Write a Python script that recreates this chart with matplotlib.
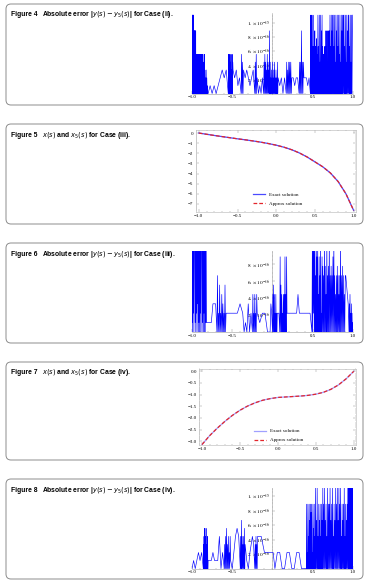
import numpy as np
import matplotlib.pyplot as plt
from matplotlib.patches import FancyBboxPatch
from matplotlib.ticker import MultipleLocator

plt.rcParams['mathtext.fontset'] = 'stix'

W, H = 367, 585
EPS = 1.11e-16   # error levels are written as multiples of this (hex digit per sample)

# x(s) curves, s from -1.0 to 1.0 step 0.1
s_curve = [-1.0, -0.9, -0.8, -0.7, -0.6, -0.5, -0.4, -0.3, -0.2, -0.1, 0.0,
           0.1, 0.2, 0.3, 0.4, 0.5, 0.6, 0.7, 0.8, 0.9, 1.0]
x_case3 = [0.0, -0.12, -0.24, -0.35, -0.46, -0.57, -0.67, -0.78, -0.90, -1.04, -1.20,
           -1.40, -1.65, -1.97, -2.37, -2.85, -3.33, -3.95, -4.80, -6.00, -7.65]
x_case4 = [-3.14, -2.76, -2.44, -2.15, -1.89, -1.67, -1.49, -1.35, -1.24, -1.17, -1.12,
           -1.10, -1.08, -1.06, -1.03, -0.98, -0.90, -0.77, -0.58, -0.32, 0.0]

# absolute error traces: (s_start, s_end, levels)
err_case2 = [
    (-1.000, -0.975, "a0a0a9a0a0"),
    (-0.975, -0.950, "0808070806080"),
    (-0.950, -0.880, "05040503050405020504050305"),
    (-0.880, -0.840, "0504050403050"),
    (-0.840, -0.800, "3020302010"),
    (-0.800, -0.550, "0101012323"),
    (-0.550, -0.490, "0504050405030504"),
    (-0.490, -0.390, "32312"),
    (-0.390, -0.360, "05040"),
    (-0.360, -0.220, "3232123"),
    (-0.220, -0.190, "04050"),
    (-0.190, -0.110, "20102"),
    (-0.110, -0.050, "040504030504"),
    (-0.050, -0.020, "0308040"),
    (-0.020, 0.070, "20304020304020302040"),
    (0.070, 0.170, "21202"),
    (0.170, 0.240, "04030404040"),
    (0.240, 0.330, "22122"),
    (0.330, 0.390, "0404080404"),
    (0.390, 0.470, "22212"),
    (0.470, 0.510, "0a080a0604a0"),
    (0.510, 0.560, "0604080604070605"),
    (0.560, 0.620, "0a060a040a080a"),
    (0.620, 0.660, "060405060406"),
    (0.660, 0.710, "08060804080608"),
    (0.710, 0.750, "0a060a080a"),
    (0.750, 0.875, "0a060a040a080a060a050a040a080a"),
    (0.875, 1.001, "0a0a060a040a080a0a060a040a08a"),
]
err_case3 = [
    (-1.000, -0.820, "1a0a2a0a9a1a0a2a0a3a0a1a0a2a0a9a0a1a0a2a0a0a1a"),
    (-0.820, -0.740, "1111"),
    (-0.740, -0.690, "333"),
    (-0.690, -0.570, "060205020403020502"),
    (-0.570, -0.370, "222223"),
    (-0.370, -0.250, "2010302"),
    (-0.250, -0.190, "0402040204"),
    (-0.190, -0.030, "21220"),
    (-0.030, 0.000, "032"),
    (0.000, 0.060, "0405040204020"),
    (0.060, 0.090, "222"),
    (0.090, 0.140, "0805040204"),
    (0.140, 0.180, "04080408"),
    (0.180, 0.300, "22222"),
    (0.300, 0.350, "242"),
    (0.350, 0.490, "222222"),
    (0.490, 0.530, "0a0a2a0a"),
    (0.530, 0.620, "060a080a0408060a0208"),
    (0.620, 0.700, "07060a07040a0607"),
    (0.700, 0.790, "0a060706080a0604"),
    (0.790, 0.850, "06070604060a"),
    (0.850, 0.910, "0607060406"),
    (0.910, 0.950, "6543"),
    (0.950, 1.001, "030402030201"),
]
err_case4 = [
    (-1.000, -0.860, "0101212"),
    (-0.860, -0.800, "0304050304050203040"),
    (-0.800, -0.680, "111211"),
    (-0.680, -0.600, "1402"),
    (-0.600, -0.520, "03040503040204"),
    (-0.520, -0.480, "10"),
    (-0.480, -0.400, "2454"),
    (-0.400, -0.340, "0406040304050"),
    (-0.340, -0.280, "310"),
    (-0.280, -0.220, "2343"),
    (-0.220, -0.180, "03040304"),
    (-0.180, -0.080, "44432"),
    (-0.080, 0.030, "22222"),
    (0.030, 0.420, "0220022002200"),
    (0.420, 0.530, "0802080408060807080208050804"),
    (0.530, 0.580, "0a060a0408"),
    (0.580, 0.620, "0608040806"),
    (0.620, 0.700, "0a080a0608040a08"),
    (0.700, 0.780, "080a06080a040806"),
    (0.780, 0.860, "0a080a060a080a04"),
    (0.860, 0.940, "0806080a040806080a"),
    (0.940, 1.001, "0a0a060a0a080a0a0a"),
]

err_ticks = [2e-16, 4e-16, 6e-16, 8e-16, 1e-15]
err_labels = [r"$2.\times10^{-16}$", r"$4.\times10^{-16}$", r"$6.\times10^{-16}$",
              r"$8.\times10^{-16}$", r"$1.\times10^{-15}$"]

captions = [
    ("Figure 4", r"Absolute error |$y(s) - y_5(s)$| for Case (ii)."),
    ("Figure 5", r"$x(s)$ and $x_5(s)$ for Case (iii)."),
    ("Figure 6", r"Absolute error |$y(s) - y_5(s)$| for Case (iii)."),
    ("Figure 7", r"$x(s)$ and $x_5(s)$ for Case (iv)."),
    ("Figure 8", r"Absolute error |$y(s) - y_5(s)$| for Case (iv)."),
]
box_rows = [(4, 105), (124, 224), (243, 343), (362, 460), (479, 579)]

SERIF = 'Liberation Serif'
GRAY = '#9a9a9a'

fig = plt.figure(figsize=(W / 100, H / 100), dpi=100)


def px_axes(x0, y0, x1, y1):
    return fig.add_axes([x0 / W, 1 - y1 / H, (x1 - x0) / W, (y1 - y0) / H])


def trace(segments):
    xs, ys = [], []
    for s0, s1, levels in segments:
        xs.extend(np.linspace(s0, s1, len(levels), endpoint=False))
        ys.extend(int(c, 16) * EPS for c in levels)
    return np.array(xs), np.array(ys)


def error_panel(y_top, y_base, segments, top, nticks):
    ax = px_axes(192, y_top, 353, y_base)
    ax.patch.set_visible(False)
    s, e = trace(segments)
    ax.plot(s, e, color='#0000ff', lw=0.45, zorder=3)
    ax.set_xlim(-1, 1)
    ax.set_ylim(0, top)
    ax.spines['left'].set_position(('data', 0))
    ax.spines['top'].set_visible(False)
    ax.spines['right'].set_visible(False)
    for sp in ('left', 'bottom'):
        ax.spines[sp].set_color(GRAY)
        ax.spines[sp].set_linewidth(0.4)
    ax.set_xticks([-1, -0.5, 0.5, 1])
    ax.set_xticklabels(["\u22121.0", "\u22120.5", "0.5", "1.0"], family=SERIF)
    ax.xaxis.set_minor_locator(MultipleLocator(0.1))
    ax.set_yticks(err_ticks[:nticks])
    ax.set_yticklabels(err_labels[:nticks])
    ax.yaxis.set_minor_locator(MultipleLocator(5e-17))
    ax.tick_params(which='both', direction='in', color=GRAY, width=0.35,
                   labelsize=3.9, pad=1.2)
    ax.tick_params(axis='x', labelsize=3.5)
    ax.tick_params(which='major', length=2)
    ax.tick_params(which='minor', length=1)
    return ax


def curve_panel(x0, y0, x1, y1, vals, ylim, yticks, ylabels, yminor, leg_xy, exact_color):
    ax = px_axes(x0, y0, x1, y1)
    ax.plot(s_curve, vals, color=exact_color, lw=0.9, label='Exact solution')
    ax.plot(s_curve, vals, color='#e3262c', lw=0.9, ls=(0, (3, 1.6)), label='Approx solution')
    ax.set_xlim(-1.04, 1.03)
    ax.set_ylim(*ylim)
    for sp in ax.spines.values():
        sp.set_color('#b4b4b4')
        sp.set_linewidth(0.4)
    ax.set_xticks([-1, -0.5, 0, 0.5, 1])
    ax.set_xticklabels(["\u22121.0", "\u22120.5", "0.0", "0.5", "1.0"], family=SERIF)
    ax.xaxis.set_minor_locator(MultipleLocator(0.1))
    ax.set_yticks(yticks)
    ax.set_yticklabels(ylabels, family=SERIF)
    ax.yaxis.set_minor_locator(MultipleLocator(yminor))
    ax.tick_params(which='both', direction='in', top=True, right=True, color=GRAY,
                   width=0.35, labelsize=3.6, pad=1.5)
    ax.tick_params(which='major', length=2)
    ax.tick_params(which='minor', length=1)
    ax.legend(loc='center', bbox_to_anchor=leg_xy, frameon=False, handlelength=2.4,
              labelspacing=0.9, prop={'family': SERIF, 'size': 3.6})
    return ax


# panel boxes and captions
for (y0, y1), (fignum, text) in zip(box_rows, captions):
    fig.patches.append(FancyBboxPatch((6 / 100, (H - y1) / 100), 357 / 100, (y1 - y0) / 100,
                                      boxstyle="round,pad=0,rounding_size=0.05",
                                      transform=fig.dpi_scale_trans, fill=False,
                                      ec='#8c8c8c', lw=0.7))
    fig.text(11 / W, 1 - (y0 + 11) / H, fignum, fontsize=4.9, weight='bold',
             family='Liberation Sans', va='center', ha='left')
    fig.text(42.5 / W, 1 - (y0 + 11) / H, text, fontsize=4.9, weight='bold',
             family='Liberation Sans', va='center', ha='left', math_fontfamily='dejavusans')

error_panel(13, 93.5, err_case2, 1.14e-15, 5)
curve_panel(195.7, 130, 356, 211.5, x_case3, (-7.75, 0.3), list(range(0, -8, -1)),
            ["0"] + ["\u2212%d" % k for k in range(1, 8)], 0.2, (0.513, 0.153), '#4a4aff')
error_panel(250.7, 332, err_case3, 9.6e-16, 4)
curve_panel(199, 369, 356, 445, x_case4, (-3.16, 0.1), [0, -0.5, -1, -1.5, -2, -2.5, -3],
            ["0.0", "\u22120.5", "\u22121.0", "\u22121.5", "\u22122.0", "\u22122.5", "\u22123.0"],
            0.1, (0.51, 0.125), '#a0a0ff')
error_panel(487.7, 568.6, err_case4, 1.115e-15, 5)

fig.savefig('out.png', dpi=100)
